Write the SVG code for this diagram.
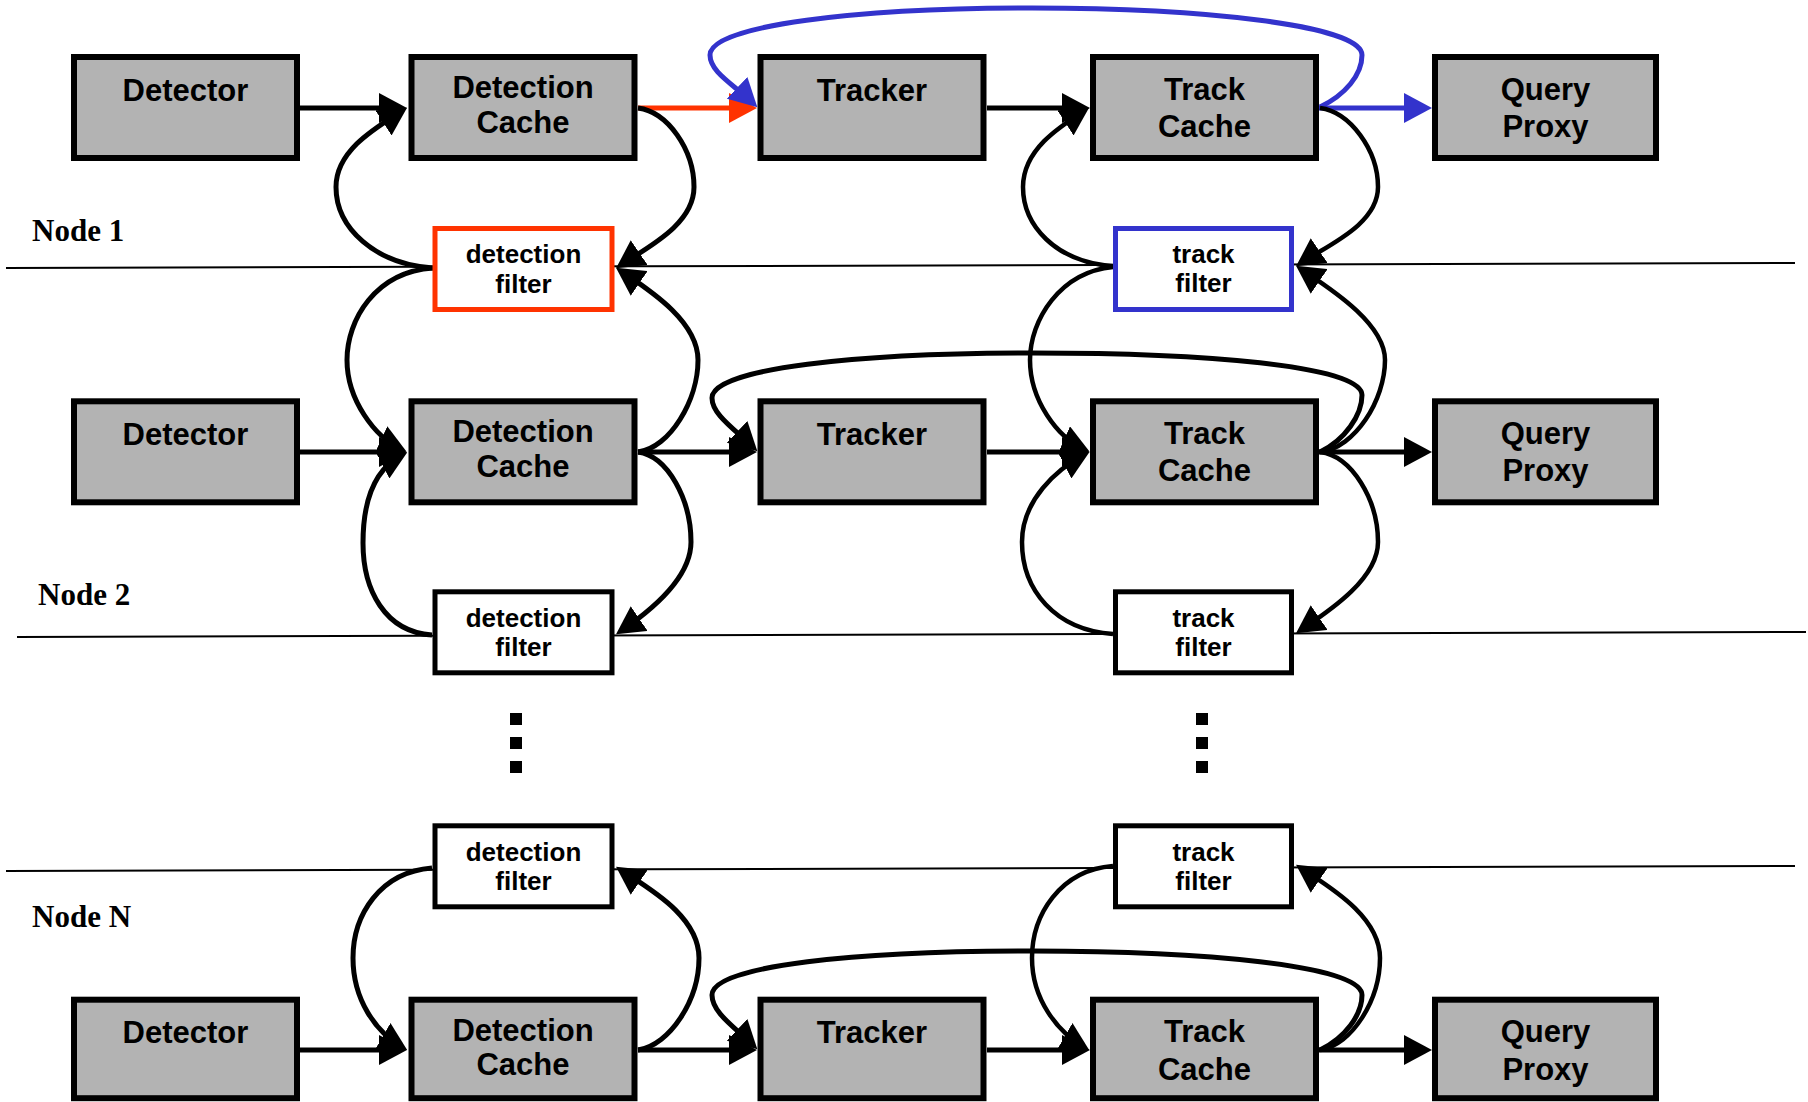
<svg xmlns="http://www.w3.org/2000/svg" width="1808" height="1102" viewBox="0 0 1808 1102">
<defs>
<style>
.box{fill:#b3b3b3;stroke:#000;stroke-width:6}
.flt{fill:#fff;stroke:#000;stroke-width:5}
.lbl{font-family:"Liberation Sans",Arial,sans-serif;font-weight:bold;font-size:31px;text-anchor:middle;fill:#000}
.flbl{font-family:"Liberation Sans",Arial,sans-serif;font-weight:bold;font-size:26px;text-anchor:middle;fill:#000}
.node{font-family:"Liberation Serif","Times New Roman",serif;font-weight:bold;font-size:31px;fill:#000}
.div{stroke:#000;stroke-width:2;fill:none}
.c{fill:none;stroke:#000;stroke-width:5;marker-end:url(#ah)}
.ct{fill:none;stroke:#000;stroke-width:4.5;marker-end:url(#ah)}
.red{fill:none;stroke:#ff3300;stroke-width:5;marker-end:url(#ahr)}
.blue{fill:none;stroke:#3333cc;stroke-width:5;marker-end:url(#ahb)}
</style>
<marker id="ah" viewBox="0 0 28 30" markerUnits="userSpaceOnUse" markerWidth="28" markerHeight="30" refX="22" refY="15" orient="auto"><path d="M0,0 L28,15 L0,30 Z" fill="#000"/></marker>
<marker id="ahr" viewBox="0 0 28 30" markerUnits="userSpaceOnUse" markerWidth="28" markerHeight="30" refX="22" refY="15" orient="auto"><path d="M0,0 L28,15 L0,30 Z" fill="#ff3300"/></marker>
<marker id="ahb" viewBox="0 0 28 30" markerUnits="userSpaceOnUse" markerWidth="28" markerHeight="30" refX="22" refY="15" orient="auto"><path d="M0,0 L28,15 L0,30 Z" fill="#3333cc"/></marker>
</defs>
<rect width="1808" height="1102" fill="#fff"/>

<g id="dividers">
<line class="div" x1="6" y1="268" x2="1795" y2="263"/>
<line class="div" x1="17" y1="637" x2="1806" y2="632"/>
<line class="div" x1="6" y1="871" x2="1795" y2="866"/>
</g>

<g id="node-labels">
<text class="node" x="32" y="241">Node 1</text>
<text class="node" x="38" y="605">Node 2</text>
<text class="node" x="32" y="927">Node N</text>
</g>

<g id="ellipsis">
<rect x="510" y="713" width="12" height="12"/>
<rect x="510" y="737" width="12" height="12"/>
<rect x="510" y="761" width="12" height="12"/>
<rect x="1196" y="713" width="12" height="12"/>
<rect x="1196" y="737" width="12" height="12"/>
<rect x="1196" y="761" width="12" height="12"/>
</g>

<g id="connectors">
<!-- row 1 straight -->
<path class="c" d="M300,108 H401"/>
<path class="red" d="M638,108 H751"/>
<path class="c" d="M987,108 H1084"/>
<path class="blue" d="M1319,108 H1426"/>
<!-- row 2 straight -->
<path class="c" d="M300,452 H401"/>
<path class="c" d="M638,452 H751"/>
<path class="c" d="M987,452 H1084"/>
<path class="c" d="M1319,452 H1426"/>
<!-- row 3 straight -->
<path class="c" d="M300,1050 H401"/>
<path class="c" d="M638,1050 H751"/>
<path class="c" d="M987,1050 H1084"/>
<path class="c" d="M1319,1050 H1426"/>

<!-- loops -->
<path class="blue" d="M1320,107 C1345,95 1362,75 1362,55 C1362,25 1200,8 1032,8 C860,8 710,25 710,55 C710,72 733,84 753,103"/>
<path class="c" d="M1320,452 C1345,440 1362,415 1362,395 C1362,365 1200,353 1032,353 C860,353 712,368 712,398 C712,414 733,428 753,447"/>
<path class="c" d="M1320,1050 C1345,1038 1362,1015 1362,995 C1362,965 1200,951 1032,951 C860,951 712,965 712,995 C712,1012 733,1026 753,1045"/>

<!-- detection side curves -->
<path class="c" d="M433,268 C375,264 336,228 336,187 C336,150 377,127 402,111"/>
<path class="c" d="M638,108 C668,112 694,150 694,187 C694,225 646,248 621,265"/>
<path class="c" d="M433,268 C375,272 347,320 347,360 C347,400 375,437 401,449"/>
<path class="c" d="M638,452 C670,448 698,400 698,360 C698,320 646,288 621,271"/>
<path class="c" d="M638,452 C668,456 691,500 691,542 C691,580 646,614 621,631"/>
<path class="c" d="M432,635 C385,632 363,590 363,543 C363,500 375,469 402,455"/>
<path class="c" d="M432,868 C380,872 353,915 353,958 C353,1000 376,1032 402,1047"/>
<path class="c" d="M638,1050 C670,1045 699,1000 699,958 C699,915 646,887 621,870"/>

<!-- track side curves -->
<path class="ct" d="M1113,266 C1055,262 1023,225 1023,187 C1023,150 1059,127 1084,111"/>
<path class="ct" d="M1320,108 C1350,112 1378,150 1378,187 C1378,225 1326,246 1301,263"/>
<path class="ct" d="M1113,267 C1060,272 1030,320 1030,360 C1030,400 1057,437 1084,449"/>
<path class="ct" d="M1320,452 C1355,448 1385,400 1385,360 C1385,322 1326,286 1301,269"/>
<path class="ct" d="M1320,452 C1352,456 1378,500 1378,542 C1378,580 1326,613 1301,630"/>
<path class="ct" d="M1113,634 C1055,630 1022,590 1022,542 C1022,500 1057,469 1084,455"/>
<path class="ct" d="M1113,866 C1060,870 1032,915 1032,958 C1032,1000 1058,1032 1084,1047"/>
<path class="ct" d="M1320,1050 C1352,1045 1380,1000 1380,958 C1380,915 1326,885 1301,868"/>
</g>

<!-- row 1 -->
<g id="detector-1"><rect class="box" x="74" y="57" width="223" height="101"/><text class="lbl" x="185.5" y="101">Detector</text></g>
<g id="detection-cache-1"><rect class="box" x="411.5" y="57" width="223" height="101"/><text class="lbl" x="523" y="98">Detection</text><text class="lbl" x="523" y="133">Cache</text></g>
<g id="tracker-1"><rect class="box" x="760.5" y="57" width="223" height="101"/><text class="lbl" x="872" y="101">Tracker</text></g>
<g id="track-cache-1"><rect class="box" x="1093" y="57" width="223" height="101"/><text class="lbl" x="1204.5" y="100">Track</text><text class="lbl" x="1204.5" y="137">Cache</text></g>
<g id="query-proxy-1"><rect class="box" x="1435" y="57" width="221" height="101"/><text class="lbl" x="1545.5" y="100">Query</text><text class="lbl" x="1545.5" y="137">Proxy</text></g>
<g id="detection-filter-1"><rect class="flt" x="435" y="228.5" width="177" height="81" style="stroke:#ff3300"/><text class="flbl" x="523.5" y="263">detection</text><text class="flbl" x="523.5" y="293">filter</text></g>
<g id="track-filter-1"><rect class="flt" x="1115.5" y="228.5" width="176" height="81" style="stroke:#3333cc"/><text class="flbl" x="1203.5" y="263">track</text><text class="flbl" x="1203.5" y="292">filter</text></g>

<!-- row 2 -->
<g id="detector-2"><rect class="box" x="74" y="401.3" width="223" height="101"/><text class="lbl" x="185.5" y="445">Detector</text></g>
<g id="detection-cache-2"><rect class="box" x="411.5" y="401.3" width="223" height="101"/><text class="lbl" x="523" y="442">Detection</text><text class="lbl" x="523" y="477">Cache</text></g>
<g id="tracker-2"><rect class="box" x="760.5" y="401.3" width="223" height="101"/><text class="lbl" x="872" y="445">Tracker</text></g>
<g id="track-cache-2"><rect class="box" x="1093" y="401.3" width="223" height="101"/><text class="lbl" x="1204.5" y="444">Track</text><text class="lbl" x="1204.5" y="481">Cache</text></g>
<g id="query-proxy-2"><rect class="box" x="1435" y="401.3" width="221" height="101"/><text class="lbl" x="1545.5" y="444">Query</text><text class="lbl" x="1545.5" y="481">Proxy</text></g>
<g id="detection-filter-2"><rect class="flt" x="435" y="591.8" width="177" height="81"/><text class="flbl" x="523.5" y="627">detection</text><text class="flbl" x="523.5" y="656">filter</text></g>
<g id="track-filter-2"><rect class="flt" x="1115.5" y="591.8" width="176" height="81"/><text class="flbl" x="1203.5" y="627">track</text><text class="flbl" x="1203.5" y="656">filter</text></g>

<!-- row N -->
<g id="detection-filter-n"><rect class="flt" x="435" y="825.8" width="177" height="81"/><text class="flbl" x="523.5" y="861">detection</text><text class="flbl" x="523.5" y="890">filter</text></g>
<g id="track-filter-n"><rect class="flt" x="1115.5" y="825.8" width="176" height="81"/><text class="flbl" x="1203.5" y="861">track</text><text class="flbl" x="1203.5" y="890">filter</text></g>
<g id="detector-n"><rect class="box" x="74" y="999.7" width="223" height="98.5"/><text class="lbl" x="185.5" y="1043">Detector</text></g>
<g id="detection-cache-n"><rect class="box" x="411.5" y="999.7" width="223" height="98.5"/><text class="lbl" x="523" y="1041">Detection</text><text class="lbl" x="523" y="1075">Cache</text></g>
<g id="tracker-n"><rect class="box" x="760.5" y="999.7" width="223" height="98.5"/><text class="lbl" x="872" y="1043">Tracker</text></g>
<g id="track-cache-n"><rect class="box" x="1093" y="999.7" width="223" height="98.5"/><text class="lbl" x="1204.5" y="1042">Track</text><text class="lbl" x="1204.5" y="1080">Cache</text></g>
<g id="query-proxy-n"><rect class="box" x="1435" y="999.7" width="221" height="98.5"/><text class="lbl" x="1545.5" y="1042">Query</text><text class="lbl" x="1545.5" y="1080">Proxy</text></g>
</svg>
